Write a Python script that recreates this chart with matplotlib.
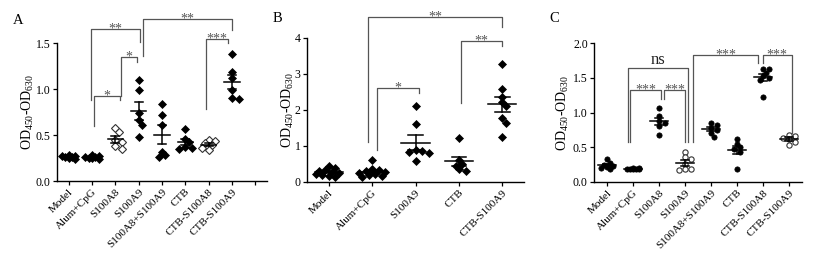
import numpy as np
import matplotlib
matplotlib.use("Agg")
import matplotlib.pyplot as plt

plt.rcParams['font.family'] = ['Liberation Serif', 'DejaVu Serif']
plt.rcParams['mathtext.default'] = 'regular'

# ---------------- data ----------------
cats_a = ["Model", "Alum+CpG", "S100A8", "S100A9", "S100A8+S100A9", "CTB", "CTB-S100A8", "CTB-S100A9"]
a_model = [0.27, 0.26, 0.25, 0.28, 0.26, 0.27, 0.24]
a_alum = [0.26, 0.25, 0.27, 0.24, 0.28, 0.25, 0.26]
a_s100a8 = [0.58, 0.53, 0.45, 0.42, 0.38, 0.35]
a_s100a9 = [1.10, 0.99, 0.74, 0.66, 0.61, 0.48]
a_a8a9 = [0.84, 0.72, 0.61, 0.32, 0.28, 0.26]
a_ctb = [0.57, 0.46, 0.42, 0.37, 0.36, 0.35]
a_ctba8 = [0.45, 0.43, 0.41, 0.39, 0.36, 0.34]
a_ctba9 = [1.38, 1.19, 1.12, 0.99, 0.90, 0.89]
a_open = [False, False, True, False, False, False, True, False]

cats_b = ["Model", "Alum+CpG", "S100A9", "CTB", "CTB-S100A9"]
b_model = [0.45, 0.38, 0.33, 0.30, 0.27, 0.25, 0.22, 0.20, 0.18, 0.15]
b_alum = [0.62, 0.35, 0.33, 0.30, 0.28, 0.25, 0.22, 0.20, 0.18, 0.15]
b_s100a9 = [2.10, 1.60, 0.90, 0.85, 0.82, 0.80, 0.58]
b_ctb = [1.22, 0.60, 0.50, 0.45, 0.35, 0.30]
b_ctba9 = [3.27, 2.57, 2.37, 2.23, 2.12, 1.77, 1.65, 1.26]

cats_c = ["Model", "Alum+CpG", "S100A8", "S100A9", "S100A8+S100A9", "CTB", "CTB-S100A8", "CTB-S100A9"]
c_model = [0.33, 0.28, 0.25, 0.23, 0.21, 0.20, 0.19]
c_alum = [0.20, 0.19, 0.19, 0.18, 0.18, 0.19, 0.20]
c_s100a8 = [1.07, 0.95, 0.88, 0.85, 0.80, 0.68]
c_s100a9 = [0.43, 0.36, 0.33, 0.26, 0.18, 0.17, 0.18]
c_a8a9 = [0.85, 0.82, 0.78, 0.75, 0.70, 0.65]
c_ctb = [0.62, 0.55, 0.50, 0.47, 0.43, 0.18]
c_ctba8 = [1.62, 1.62, 1.57, 1.52, 1.50, 1.47, 1.23]
c_ctba9 = [0.68, 0.66, 0.64, 0.62, 0.58, 0.53]
c_open = [False, False, False, True, False, False, False, True]

# significance brackets: (x_left, y_left_bottom, x_right, y_right_bottom, y_top, label)
sig_a = [(1.1, 0.60, 2.2, 0.88, 0.92, "*"),
         (2.23, 0.92, 2.92, 1.29, 1.35, "*"),
         (0.94, 0.88, 3.05, 1.51, 1.65, "**"),
         (3.18, 1.36, 7.0, 1.64, 1.76, "**"),
         (5.88, 0.78, 6.82, 1.50, 1.54, "***")]
sig_b = [(0.91, 1.11, 4.0, 4.30, 4.58, "**"),
         (1.12, 0.89, 2.08, 2.47, 2.60, "*"),
         (3.04, 2.19, 4.0, 3.78, 3.92, "**")]
sig_c = [(0.8, 0.58, 3.1, 0.58, 1.64, "ns"),
         (0.88, 0.58, 2.07, 1.20, 1.32, "***"),
         (2.18, 1.20, 3.0, 0.58, 1.32, "***"),
         (3.3, 0.58, 5.82, 1.71, 1.83, "***"),
         (6.0, 1.71, 7.1, 0.70, 1.83, "***")]

W, H = 817, 259
fig = plt.figure(figsize=(W / 100, H / 100), dpi=100)


def box(l, r, b, t):
    return [l / W, 1 - b / H, (r - l) / W, (b - t) / H]


def swarm_offsets(ax, x0, vals, diam_px, maxspread):
    trans = ax.transData
    px_per_x = (trans.transform((1, 0)) - trans.transform((0, 0)))[0]
    step = diam_px * 0.55 / px_per_x
    kmax = max(1, int(maxspread / step))
    cands = [0]
    for k in range(1, kmax + 1):
        cands += [k, -k]
    placed = []
    offs = [0.0] * len(vals)
    order = np.argsort(vals)[::-1]
    thr = diam_px * 0.8
    for i in order:
        yp = trans.transform((x0, vals[i]))[1]
        best, bestd = 0.0, -1
        for k in cands:
            xo = k * step
            xp = trans.transform((x0 + xo, vals[i]))[0]
            d = min([np.hypot(xp - a, yp - b) for a, b in placed] + [1e9])
            if d >= thr:
                best = xo
                break
            if d > bestd:
                best, bestd = xo, d
        offs[i] = best
        placed.append((trans.transform((x0 + best, vals[i]))[0], yp))
    return offs


def draw_panel(ax, groups, opens, marker, ms, diam_px, mean_w, cap_w, maxspread):
    for i, vals in enumerate(groups):
        vals = np.asarray(vals, float)
        offs = swarm_offsets(ax, i, vals, diam_px, maxspread)
        xs = i + np.asarray(offs)
        if opens[i]:
            ax.plot(xs, vals, ls='none', marker=marker, ms=ms, mfc='white', mec='#333333', mew=0.8, clip_on=False, zorder=3)
        else:
            ax.plot(xs, vals, ls='none', marker=marker, ms=ms, mfc='black', mec='black', mew=0.5, clip_on=False, zorder=3)
        m = vals.mean()
        sem = vals.std(ddof=1) / np.sqrt(len(vals))
        ax.plot([i - mean_w / 2, i + mean_w / 2], [m, m], color='black', lw=1.1, zorder=4)
        ax.plot([i - cap_w / 2, i + cap_w / 2], [m + sem] * 2, color='black', lw=1.1, zorder=4)
        ax.plot([i - cap_w / 2, i + cap_w / 2], [m - sem] * 2, color='black', lw=1.1, zorder=4)
        ax.plot([i, i], [m - sem, m + sem], color='black', lw=1.1, zorder=4)


def draw_sig(ax, sigs, fs_star=10, fs_ns=12):
    for xl, yl, xr, yr, yt, lab in sigs:
        ax.plot([xl, xl, xr, xr], [yl, yt, yt, yr], color='#555555', lw=0.9, clip_on=False, zorder=2)
        if lab == 'ns':
            ax.text((xl + xr) / 2, yt, lab, ha='center', va='bottom', fontsize=fs_ns, color='#222222')
        else:
            ax.text((xl + xr) / 2, yt, lab, ha='center', va='center', fontsize=fs_star, color='#555555')


def style(ax, cats, ylim, yticks, yfmt, nticks, labx):
    ax.set_xlim(-0.5, nticks - 0.5)
    ax.set_ylim(*ylim)
    ax.set_yticks(yticks)
    ax.set_yticklabels([yfmt.format(v) for v in yticks], fontsize=8.5)
    ax.set_xticks(range(nticks))
    ax.set_xticklabels(cats + [""] * (nticks - len(cats)), rotation=45, ha='right', rotation_mode='anchor', fontsize=8)
    for s in ['top', 'right']:
        ax.spines[s].set_visible(False)
    for s in ['left', 'bottom']:
        ax.spines[s].set_linewidth(1.0)
    ax.tick_params(direction='out', length=3, width=0.9, pad=1.5)
    ax.set_ylabel('OD$_{450}$-OD$_{630}$', fontsize=10)
    ax.yaxis.set_label_coords(labx, 0.5)


# Panel A
axA = fig.add_axes(box(57, 267, 181, 43))
style(axA, cats_a, (0, 1.5), [0.0, 0.5, 1.0, 1.5], "{:.1f}", 9, -0.1)
draw_panel(axA, [a_model, a_alum, a_s100a8, a_s100a9, a_a8a9, a_ctb, a_ctba8, a_ctba9], a_open, 'D', 3.6, 6.0, 0.65, 0.35, 0.3)
draw_sig(axA, sig_a)

# Panel B
axB = fig.add_axes(box(307, 524, 182, 38))
style(axB, cats_b, (0, 4), [0, 1, 2, 3, 4], "{:d}", 5, -0.05)
draw_panel(axB, [b_model, b_alum, b_s100a9, b_ctb, b_ctba9], [False] * 5, 'D', 3.6, 6.0, 0.65, 0.34, 0.33)
draw_sig(axB, sig_b)

# Panel C
axC = fig.add_axes(box(594, 802, 182, 43))
style(axC, cats_c, (0, 2.0), [0.0, 0.5, 1.0, 1.5, 2.0], "{:.1f}", 8, -0.11)
draw_panel(axC, [c_model, c_alum, c_s100a8, c_s100a9, c_a8a9, c_ctb, c_ctba8, c_ctba9], c_open, 'o', 3.8, 5.5, 0.7, 0.32, 0.3)
draw_sig(axC, sig_c)

for lab, x, y in [("A", 18, 20), ("B", 277, 19), ("C", 554, 19)]:
    fig.text(x / W, 1 - y / H, lab, fontsize=10.5, ha='center', va='center')

fig.savefig("out.png", dpi=100)
